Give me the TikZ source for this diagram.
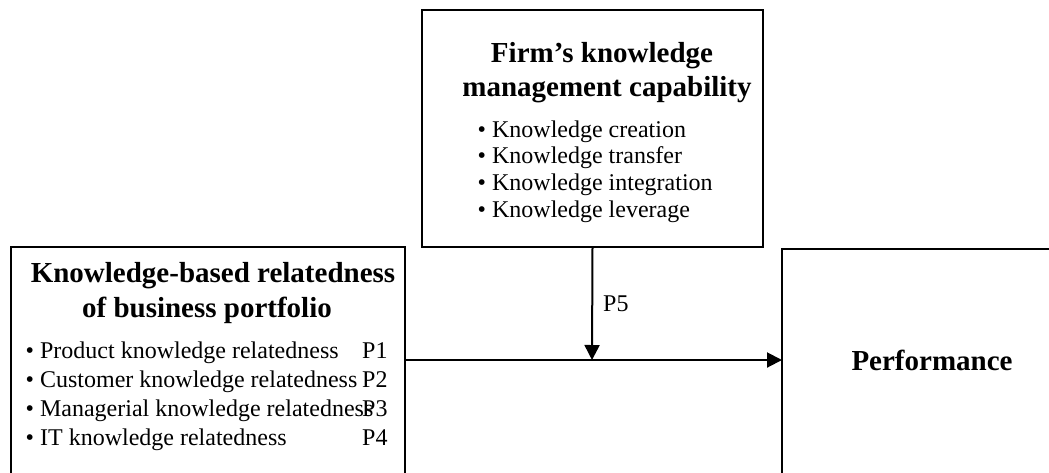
\documentclass[tikz,border=0pt]{standalone}
\usepackage{fontspec}
\setmainfont{Liberation Serif}
\usetikzlibrary{arrows.meta}
\begin{document}
\begin{tikzpicture}[x=1pt,y=-1pt,
  box/.style={draw,line width=2pt,inner sep=0pt,outer sep=0pt},
  ttl/.style={font=\fontsize{29}{35}\selectfont\bfseries,inner sep=0pt,anchor=base},
  itm/.style={font=\fontsize{24}{29}\selectfont,inner sep=0pt,anchor=base west},
  arr/.style={line width=2pt,-{Triangle[length=15pt,width=15pt]}}]
\useasboundingbox (0,0) rectangle (1049,472);
\clip (0,0) rectangle (1049,472);
% boxes
\node[box,minimum width=341pt,minimum height=237pt] (km) at (592.5,128.5) {};
\node[box,minimum width=394pt,minimum height=253pt] (kb) at (208,373.5) {};
\node[box,minimum width=318pt,minimum height=251pt] (perf) at (941,374.5) {};
% top box text
\node[ttl] (kmt1) at (602,62) {Firm’s knowledge};
\node[ttl] (kmt2) at (607,96) {management capability};
\node[itm] (km1) at (477.5,137) {• Knowledge creation};
\node[itm] (km2) at (477.5,163.5) {• Knowledge transfer};
\node[itm] (km3) at (477.5,190) {• Knowledge integration};
\node[itm] (km4) at (477.5,217) {• Knowledge leverage};
% left box text
\node[ttl] (kbt1) at (213,282) {Knowledge-based relatedness};
\node[ttl] (kbt2) at (207,317) {of business portfolio};
\node[itm] (kb1) at (25.5,358) {• Product knowledge relatedness};
\node[itm] (kb2) at (25.5,387) {• Customer knowledge relatedness};
\node[itm] (kb3) at (25.5,416) {• Managerial knowledge relatedness};
\node[itm] (kb4) at (25.5,445) {• IT knowledge relatedness};
\node[itm] (p1) at (362,358) {P1};
\node[itm] (p2) at (362,387) {P2};
\node[itm] (p3) at (362,416) {P3};
\node[itm] (p4) at (362,445) {P4};
% performance
\node[ttl] (perft) at (932,370) {Performance};
% arrows
\coordinate (mid) at (592,360);
\draw[arr] (kb.east |- mid) -- (perf.west |- mid);
\draw[arr] (km.south) -- (mid);
\node[itm] (p5) at (603,311) {P5};
\end{tikzpicture}
\end{document}
